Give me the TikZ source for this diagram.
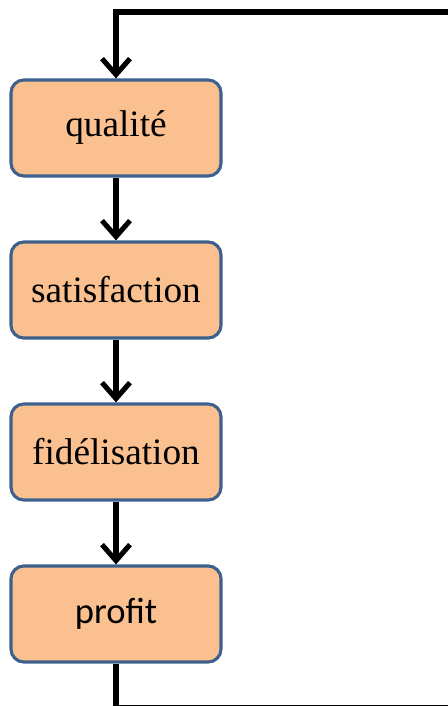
\documentclass[tikz,border=0pt]{standalone}
\usepackage{fontspec}
\setmainfont{Liberation Serif}
\newfontfamily\calibri{Carlito}
\usetikzlibrary{arrows.meta}

\definecolor{boxfill}{RGB}{250,192,144}
\definecolor{boxline}{RGB}{62,96,140}

\begin{document}
\begin{tikzpicture}[
    stepbox/.style={draw=boxline, line width=2.2pt, fill=boxfill,
      rounded corners=0.32cm, minimum width=5.25cm, minimum height=2.4cm,
      inner sep=0pt, font=\fontsize{26.5}{31}\selectfont},
    flow/.style={line width=3.6pt, line join=miter,
      -{Straight Barb[length=0.4cm, width=0.7cm, line width=3.6pt]}}
  ]
    \useasboundingbox (0, 0) rectangle (11.175, -17.65);

    % chain of boxes
    \node [stepbox] (qualite) at (2.9, -3.2) {qualité};
    \node [stepbox] (satisfaction) at (2.9, -7.25) {satisfaction};
    \node [stepbox] (fidelisation) at (2.9, -11.3) {fidélisation};
    \node [stepbox, font=\calibri\fontsize{26}{31}\selectfont] (profit) at (2.9, -15.35) {profit};

    % Edges
    \draw [flow] (qualite) -- (satisfaction);
    \draw [flow] (satisfaction) -- (fidelisation);
    \draw [flow] (fidelisation) -- (profit);

    % feedback loop
    \coordinate (bl) at (2.9, -17.7);
    \coordinate (br) at (11.29, -17.7);
    \coordinate (tr) at (11.29, -0.3);
    \coordinate (tl) at (2.9, -0.3);
    \draw [flow] (profit) -- (bl) -- (br) -- (tr) -- (tl) -- (qualite);
\end{tikzpicture}
\end{document}
